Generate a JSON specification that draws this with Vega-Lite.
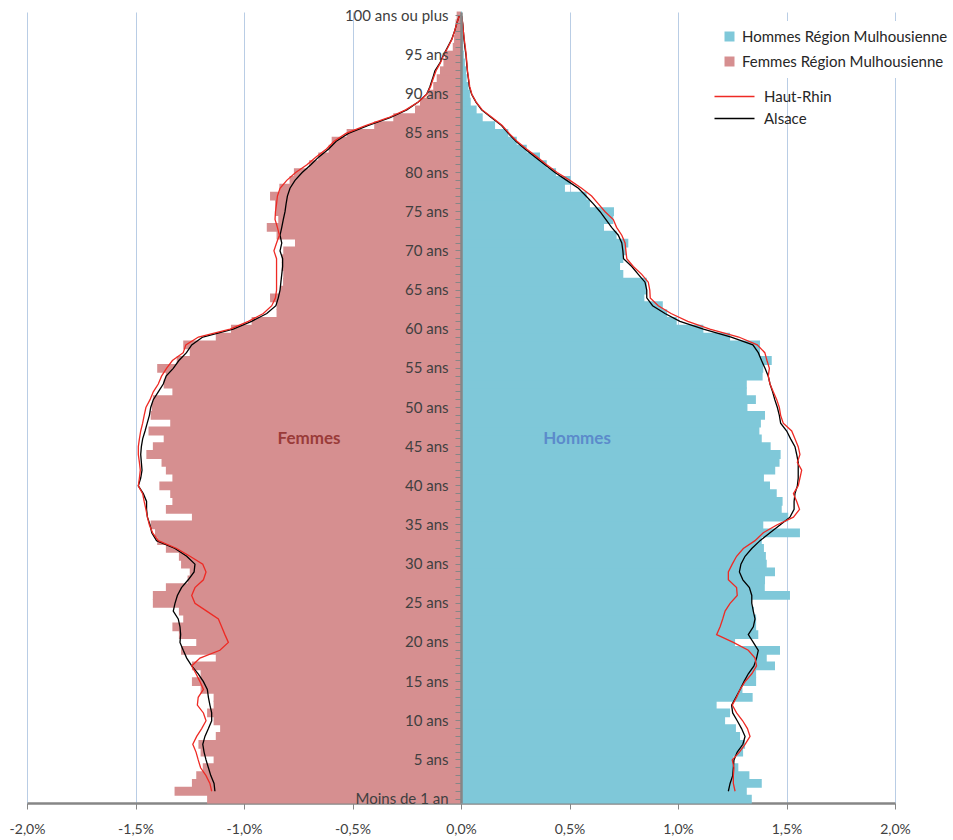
{
  "$schema": "https://vega.github.io/schema/vega-lite/v6.json",
  "width": 868,
  "height": 791,
  "autosize": {"type": "none"},
  "padding": {"left": 27, "top": 12, "right": 58, "bottom": 37},
  "background": "white",
  "config": {"view": {"stroke": null}, "font": "Lato"},
  "datasets": {
    "barres": [
      {"age":0,"h":1.34,"f":-1.17},{"age":1,"h":1.317,"f":-1.32},{"age":2,"h":1.386,"f":-1.24},{"age":3,"h":1.329,"f":-1.22},{"age":4,"h":1.278,"f":-1.19},
      {"age":5,"h":1.255,"f":-1.14},{"age":6,"h":1.3,"f":-1.2},{"age":7,"h":1.309,"f":-1.21},{"age":8,"h":1.286,"f":-1.13},{"age":9,"h":1.267,"f":-1.11},
      {"age":10,"h":1.217,"f":-1.14},{"age":11,"h":1.24,"f":-1.17},{"age":12,"h":1.178,"f":-1.14},{"age":13,"h":1.344,"f":-1.14},{"age":14,"h":1.297,"f":-1.2},
      {"age":15,"h":1.36,"f":-1.24},{"age":16,"h":1.36,"f":-1.2},{"age":17,"h":1.447,"f":-1.24},{"age":18,"h":1.409,"f":-1.13},{"age":19,"h":1.47,"f":-1.29},
      {"age":20,"h":1.263,"f":-1.22},{"age":21,"h":1.37,"f":-1.3},{"age":22,"h":1.36,"f":-1.33},{"age":23,"h":1.36,"f":-1.28},{"age":24,"h":1.35,"f":-1.3},
      {"age":25,"h":1.34,"f":-1.42},{"age":26,"h":1.516,"f":-1.42},{"age":27,"h":1.4,"f":-1.36},{"age":28,"h":1.401,"f":-1.26},{"age":29,"h":1.447,"f":-1.25},
      {"age":30,"h":1.409,"f":-1.29},{"age":31,"h":1.405,"f":-1.3},{"age":32,"h":1.396,"f":-1.36},{"age":33,"h":1.386,"f":-1.4},{"age":34,"h":1.562,"f":-1.41},
      {"age":35,"h":1.393,"f":-1.43},{"age":36,"h":1.508,"f":-1.24},{"age":37,"h":1.478,"f":-1.36},{"age":38,"h":1.482,"f":-1.33},{"age":39,"h":1.455,"f":-1.34},
      {"age":40,"h":1.424,"f":-1.39},{"age":41,"h":1.396,"f":-1.33},{"age":42,"h":1.448,"f":-1.36},{"age":43,"h":1.468,"f":-1.38},{"age":44,"h":1.473,"f":-1.45},
      {"age":45,"h":1.427,"f":-1.42},{"age":46,"h":1.386,"f":-1.37},{"age":47,"h":1.375,"f":-1.44},{"age":48,"h":1.382,"f":-1.34},{"age":49,"h":1.401,"f":-1.43},
      {"age":50,"h":1.32,"f":-1.425},{"age":51,"h":1.359,"f":-1.42},{"age":52,"h":1.317,"f":-1.33},{"age":53,"h":1.317,"f":-1.37},{"age":54,"h":1.39,"f":-1.36},
      {"age":55,"h":1.393,"f":-1.4},{"age":56,"h":1.432,"f":-1.31},{"age":57,"h":1.378,"f":-1.25},{"age":58,"h":1.378,"f":-1.28},{"age":59,"h":1.24,"f":-1.13},
      {"age":60,"h":1.117,"f":-1.06},{"age":61,"h":0.994,"f":-0.965},{"age":62,"h":0.95,"f":-0.85},{"age":63,"h":0.93,"f":-0.85},{"age":64,"h":0.845,"f":-0.88},
      {"age":65,"h":0.856,"f":-0.834},{"age":66,"h":0.856,"f":-0.82},{"age":67,"h":0.748,"f":-0.819},{"age":68,"h":0.733,"f":-0.826},{"age":69,"h":0.748,"f":-0.826},
      {"age":70,"h":0.76,"f":-0.819},{"age":71,"h":0.771,"f":-0.765},{"age":72,"h":0.717,"f":-0.85},{"age":73,"h":0.659,"f":-0.895},{"age":74,"h":0.702,"f":-0.842},
      {"age":75,"h":0.705,"f":-0.857},{"age":76,"h":0.594,"f":-0.857},{"age":77,"h":0.579,"f":-0.88},{"age":78,"h":0.479,"f":-0.837},{"age":79,"h":0.505,"f":-0.79},
      {"age":80,"h":0.438,"f":-0.77},{"age":81,"h":0.395,"f":-0.7},{"age":82,"h":0.364,"f":-0.658},{"age":83,"h":0.303,"f":-0.61},{"age":84,"h":0.257,"f":-0.596},
      {"age":85,"h":0.218,"f":-0.527},{"age":86,"h":0.157,"f":-0.4},{"age":87,"h":0.1,"f":-0.312},{"age":88,"h":0.072,"f":-0.212},{"age":89,"h":0.045,"f":-0.189},
      {"age":90,"h":0.041,"f":-0.151},{"age":91,"h":0.034,"f":-0.128},{"age":92,"h":0.026,"f":-0.112},{"age":93,"h":0.023,"f":-0.097},{"age":94,"h":0.018,"f":-0.081},
      {"age":95,"h":0.013,"f":-0.074},{"age":96,"h":0.01,"f":-0.038},{"age":97,"h":0.01,"f":-0.032},{"age":98,"h":0.01,"f":-0.028},{"age":99,"h":0.008,"f":-0.025},
      {"age":100,"h":0.005,"f":-0.02}
    ],
    "courbes": [
      {"age":1,"zone":"Alsace","h":1.232,"f":-1.134},{"age":1,"zone":"Haut-Rhin","h":1.263,"f":-1.149},
      {"age":2,"zone":"Alsace","h":1.24,"f":-1.138},{"age":2,"zone":"Haut-Rhin","h":1.255,"f":-1.157},
      {"age":3,"zone":"Alsace","h":1.252,"f":-1.153},{"age":3,"zone":"Haut-Rhin","h":1.255,"f":-1.175},
      {"age":4,"zone":"Alsace","h":1.255,"f":-1.164},{"age":4,"zone":"Haut-Rhin","h":1.258,"f":-1.2},
      {"age":5,"zone":"Alsace","h":1.258,"f":-1.175},{"age":5,"zone":"Haut-Rhin","h":1.25,"f":-1.211},
      {"age":6,"zone":"Alsace","h":1.273,"f":-1.184},{"age":6,"zone":"Haut-Rhin","h":1.283,"f":-1.221},
      {"age":7,"zone":"Alsace","h":1.299,"f":-1.19},{"age":7,"zone":"Haut-Rhin","h":1.309,"f":-1.236},
      {"age":8,"zone":"Alsace","h":1.309,"f":-1.18},{"age":8,"zone":"Haut-Rhin","h":1.332,"f":-1.218},
      {"age":9,"zone":"Alsace","h":1.293,"f":-1.164},{"age":9,"zone":"Haut-Rhin","h":1.32,"f":-1.195},
      {"age":10,"zone":"Alsace","h":1.273,"f":-1.149},{"age":10,"zone":"Haut-Rhin","h":1.298,"f":-1.175},
      {"age":11,"zone":"Alsace","h":1.252,"f":-1.149},{"age":11,"zone":"Haut-Rhin","h":1.27,"f":-1.187},
      {"age":12,"zone":"Alsace","h":1.247,"f":-1.157},{"age":12,"zone":"Haut-Rhin","h":1.25,"f":-1.215},
      {"age":13,"zone":"Alsace","h":1.267,"f":-1.164},{"age":13,"zone":"Haut-Rhin","h":1.27,"f":-1.211},
      {"age":14,"zone":"Alsace","h":1.286,"f":-1.169},{"age":14,"zone":"Haut-Rhin","h":1.286,"f":-1.187},
      {"age":15,"zone":"Alsace","h":1.304,"f":-1.187},{"age":15,"zone":"Haut-Rhin","h":1.309,"f":-1.203},
      {"age":16,"zone":"Alsace","h":1.324,"f":-1.211},{"age":16,"zone":"Haut-Rhin","h":1.34,"f":-1.221},
      {"age":17,"zone":"Alsace","h":1.35,"f":-1.241},{"age":17,"zone":"Haut-Rhin","h":1.362,"f":-1.241},
      {"age":18,"zone":"Alsace","h":1.362,"f":-1.264},{"age":18,"zone":"Haut-Rhin","h":1.355,"f":-1.203},
      {"age":19,"zone":"Alsace","h":1.37,"f":-1.28},{"age":19,"zone":"Haut-Rhin","h":1.324,"f":-1.111},
      {"age":20,"zone":"Alsace","h":1.347,"f":-1.295},{"age":20,"zone":"Haut-Rhin","h":1.255,"f":-1.072},
      {"age":21,"zone":"Alsace","h":1.324,"f":-1.292},{"age":21,"zone":"Haut-Rhin","h":1.178,"f":-1.088},
      {"age":22,"zone":"Alsace","h":1.347,"f":-1.295},{"age":22,"zone":"Haut-Rhin","h":1.194,"f":-1.103},
      {"age":23,"zone":"Alsace","h":1.355,"f":-1.303},{"age":23,"zone":"Haut-Rhin","h":1.206,"f":-1.118},
      {"age":24,"zone":"Alsace","h":1.347,"f":-1.326},{"age":24,"zone":"Haut-Rhin","h":1.217,"f":-1.172},
      {"age":25,"zone":"Alsace","h":1.34,"f":-1.318},{"age":25,"zone":"Haut-Rhin","h":1.24,"f":-1.226},
      {"age":26,"zone":"Alsace","h":1.34,"f":-1.307},{"age":26,"zone":"Haut-Rhin","h":1.273,"f":-1.241},
      {"age":27,"zone":"Alsace","h":1.329,"f":-1.288},{"age":27,"zone":"Haut-Rhin","h":1.27,"f":-1.226},
      {"age":28,"zone":"Alsace","h":1.299,"f":-1.257},{"age":28,"zone":"Haut-Rhin","h":1.232,"f":-1.187},
      {"age":29,"zone":"Alsace","h":1.283,"f":-1.23},{"age":29,"zone":"Haut-Rhin","h":1.232,"f":-1.175},
      {"age":30,"zone":"Alsace","h":1.29,"f":-1.226},{"age":30,"zone":"Haut-Rhin","h":1.25,"f":-1.19},
      {"age":31,"zone":"Alsace","h":1.309,"f":-1.264},{"age":31,"zone":"Haut-Rhin","h":1.27,"f":-1.249},
      {"age":32,"zone":"Alsace","h":1.34,"f":-1.318},{"age":32,"zone":"Haut-Rhin","h":1.301,"f":-1.31},
      {"age":33,"zone":"Alsace","h":1.378,"f":-1.403},{"age":33,"zone":"Haut-Rhin","h":1.355,"f":-1.395},
      {"age":34,"zone":"Alsace","h":1.424,"f":-1.425},{"age":34,"zone":"Haut-Rhin","h":1.393,"f":-1.421},
      {"age":35,"zone":"Alsace","h":1.47,"f":-1.433},{"age":35,"zone":"Haut-Rhin","h":1.455,"f":-1.436},
      {"age":36,"zone":"Alsace","h":1.516,"f":-1.445},{"age":36,"zone":"Haut-Rhin","h":1.532,"f":-1.445},
      {"age":37,"zone":"Alsace","h":1.535,"f":-1.449},{"age":37,"zone":"Haut-Rhin","h":1.56,"f":-1.452},
      {"age":38,"zone":"Alsace","h":1.535,"f":-1.449},{"age":38,"zone":"Haut-Rhin","h":1.547,"f":-1.46},
      {"age":39,"zone":"Alsace","h":1.539,"f":-1.464},{"age":39,"zone":"Haut-Rhin","h":1.532,"f":-1.467},
      {"age":40,"zone":"Alsace","h":1.55,"f":-1.487},{"age":40,"zone":"Haut-Rhin","h":1.554,"f":-1.487},
      {"age":41,"zone":"Alsace","h":1.554,"f":-1.476},{"age":41,"zone":"Haut-Rhin","h":1.562,"f":-1.482},
      {"age":42,"zone":"Alsace","h":1.554,"f":-1.47},{"age":42,"zone":"Haut-Rhin","h":1.57,"f":-1.478},
      {"age":43,"zone":"Alsace","h":1.554,"f":-1.473},{"age":43,"zone":"Haut-Rhin","h":1.55,"f":-1.482},
      {"age":44,"zone":"Alsace","h":1.547,"f":-1.476},{"age":44,"zone":"Haut-Rhin","h":1.562,"f":-1.487},
      {"age":45,"zone":"Alsace","h":1.539,"f":-1.473},{"age":45,"zone":"Haut-Rhin","h":1.554,"f":-1.487},
      {"age":46,"zone":"Alsace","h":1.519,"f":-1.467},{"age":46,"zone":"Haut-Rhin","h":1.539,"f":-1.482},
      {"age":47,"zone":"Alsace","h":1.501,"f":-1.456},{"age":47,"zone":"Haut-Rhin","h":1.524,"f":-1.476},
      {"age":48,"zone":"Alsace","h":1.473,"f":-1.446},{"age":48,"zone":"Haut-Rhin","h":1.485,"f":-1.467},
      {"age":49,"zone":"Alsace","h":1.467,"f":-1.436},{"age":49,"zone":"Haut-Rhin","h":1.473,"f":-1.46},
      {"age":50,"zone":"Alsace","h":1.458,"f":-1.43},{"age":50,"zone":"Haut-Rhin","h":1.467,"f":-1.452},
      {"age":51,"zone":"Alsace","h":1.446,"f":-1.418},{"age":51,"zone":"Haut-Rhin","h":1.455,"f":-1.433},
      {"age":52,"zone":"Alsace","h":1.436,"f":-1.395},{"age":52,"zone":"Haut-Rhin","h":1.439,"f":-1.418},
      {"age":53,"zone":"Alsace","h":1.424,"f":-1.372},{"age":53,"zone":"Haut-Rhin","h":1.424,"f":-1.395},
      {"age":54,"zone":"Alsace","h":1.416,"f":-1.359},{"age":54,"zone":"Haut-Rhin","h":1.416,"f":-1.38},
      {"age":55,"zone":"Alsace","h":1.401,"f":-1.326},{"age":55,"zone":"Haut-Rhin","h":1.421,"f":-1.357},
      {"age":56,"zone":"Alsace","h":1.385,"f":-1.3},{"age":56,"zone":"Haut-Rhin","h":1.41,"f":-1.33},
      {"age":57,"zone":"Alsace","h":1.37,"f":-1.265},{"age":57,"zone":"Haut-Rhin","h":1.4,"f":-1.28},
      {"age":58,"zone":"Alsace","h":1.345,"f":-1.241},{"age":58,"zone":"Haut-Rhin","h":1.365,"f":-1.268},
      {"age":59,"zone":"Alsace","h":1.245,"f":-1.19},{"age":59,"zone":"Haut-Rhin","h":1.28,"f":-1.21},
      {"age":60,"zone":"Alsace","h":1.117,"f":-1.05},{"age":60,"zone":"Haut-Rhin","h":1.147,"f":-1.064},
      {"age":61,"zone":"Alsace","h":1.009,"f":-0.965},{"age":61,"zone":"Haut-Rhin","h":1.045,"f":-0.98},
      {"age":62,"zone":"Alsace","h":0.94,"f":-0.895},{"age":62,"zone":"Haut-Rhin","h":0.968,"f":-0.911},
      {"age":63,"zone":"Alsace","h":0.883,"f":-0.853},{"age":63,"zone":"Haut-Rhin","h":0.909,"f":-0.872},
      {"age":64,"zone":"Alsace","h":0.856,"f":-0.842},{"age":64,"zone":"Haut-Rhin","h":0.872,"f":-0.855},
      {"age":65,"zone":"Alsace","h":0.856,"f":-0.834},{"age":65,"zone":"Haut-Rhin","h":0.87,"f":-0.85},
      {"age":66,"zone":"Alsace","h":0.848,"f":-0.83},{"age":66,"zone":"Haut-Rhin","h":0.863,"f":-0.85},
      {"age":67,"zone":"Alsace","h":0.817,"f":-0.826},{"age":67,"zone":"Haut-Rhin","h":0.833,"f":-0.85},
      {"age":68,"zone":"Alsace","h":0.787,"f":-0.822},{"age":68,"zone":"Haut-Rhin","h":0.794,"f":-0.85},
      {"age":69,"zone":"Alsace","h":0.749,"f":-0.822},{"age":69,"zone":"Haut-Rhin","h":0.764,"f":-0.85},
      {"age":70,"zone":"Alsace","h":0.746,"f":-0.834},{"age":70,"zone":"Haut-Rhin","h":0.76,"f":-0.862},
      {"age":71,"zone":"Alsace","h":0.741,"f":-0.826},{"age":71,"zone":"Haut-Rhin","h":0.756,"f":-0.85},
      {"age":72,"zone":"Alsace","h":0.725,"f":-0.834},{"age":72,"zone":"Haut-Rhin","h":0.741,"f":-0.837},
      {"age":73,"zone":"Alsace","h":0.694,"f":-0.826},{"age":73,"zone":"Haut-Rhin","h":0.717,"f":-0.846},
      {"age":74,"zone":"Alsace","h":0.668,"f":-0.819},{"age":74,"zone":"Haut-Rhin","h":0.702,"f":-0.857},
      {"age":75,"zone":"Alsace","h":0.641,"f":-0.811},{"age":75,"zone":"Haut-Rhin","h":0.664,"f":-0.855},
      {"age":76,"zone":"Alsace","h":0.61,"f":-0.806},{"age":76,"zone":"Haut-Rhin","h":0.633,"f":-0.85},
      {"age":77,"zone":"Alsace","h":0.576,"f":-0.8},{"age":77,"zone":"Haut-Rhin","h":0.602,"f":-0.846},
      {"age":78,"zone":"Alsace","h":0.541,"f":-0.788},{"age":78,"zone":"Haut-Rhin","h":0.556,"f":-0.834},
      {"age":79,"zone":"Alsace","h":0.487,"f":-0.765},{"age":79,"zone":"Haut-Rhin","h":0.502,"f":-0.803},
      {"age":80,"zone":"Alsace","h":0.433,"f":-0.732},{"age":80,"zone":"Haut-Rhin","h":0.443,"f":-0.762},
      {"age":81,"zone":"Alsace","h":0.387,"f":-0.692},{"age":81,"zone":"Haut-Rhin","h":0.395,"f":-0.71},
      {"age":82,"zone":"Alsace","h":0.341,"f":-0.655},{"age":82,"zone":"Haut-Rhin","h":0.35,"f":-0.668},
      {"age":83,"zone":"Alsace","h":0.295,"f":-0.61},{"age":83,"zone":"Haut-Rhin","h":0.302,"f":-0.62},
      {"age":84,"zone":"Alsace","h":0.253,"f":-0.575},{"age":84,"zone":"Haut-Rhin","h":0.258,"f":-0.585},
      {"age":85,"zone":"Alsace","h":0.218,"f":-0.519},{"age":85,"zone":"Haut-Rhin","h":0.222,"f":-0.53},
      {"age":86,"zone":"Alsace","h":0.187,"f":-0.43},{"age":86,"zone":"Haut-Rhin","h":0.19,"f":-0.44},
      {"age":87,"zone":"Alsace","h":0.141,"f":-0.327},{"age":87,"zone":"Haut-Rhin","h":0.145,"f":-0.335},
      {"age":88,"zone":"Alsace","h":0.095,"f":-0.25},{"age":88,"zone":"Haut-Rhin","h":0.098,"f":-0.255},
      {"age":89,"zone":"Alsace","h":0.069,"f":-0.197},{"age":89,"zone":"Haut-Rhin","h":0.07,"f":-0.197},
      {"age":90,"zone":"Alsace","h":0.049,"f":-0.158},{"age":90,"zone":"Haut-Rhin","h":0.05,"f":-0.158},
      {"age":91,"zone":"Alsace","h":0.038,"f":-0.143},{"age":91,"zone":"Haut-Rhin","h":0.04,"f":-0.14},
      {"age":92,"zone":"Alsace","h":0.034,"f":-0.131},{"age":92,"zone":"Haut-Rhin","h":0.035,"f":-0.128},
      {"age":93,"zone":"Alsace","h":0.029,"f":-0.12},{"age":93,"zone":"Haut-Rhin","h":0.03,"f":-0.115},
      {"age":94,"zone":"Alsace","h":0.026,"f":-0.097},{"age":94,"zone":"Haut-Rhin","h":0.027,"f":-0.095},
      {"age":95,"zone":"Alsace","h":0.023,"f":-0.081},{"age":95,"zone":"Haut-Rhin","h":0.024,"f":-0.08},
      {"age":96,"zone":"Alsace","h":0.018,"f":-0.062},{"age":96,"zone":"Haut-Rhin","h":0.02,"f":-0.06},
      {"age":97,"zone":"Alsace","h":0.014,"f":-0.043},{"age":97,"zone":"Haut-Rhin","h":0.015,"f":-0.042},
      {"age":98,"zone":"Alsace","h":0.011,"f":-0.03},{"age":98,"zone":"Haut-Rhin","h":0.011,"f":-0.03},
      {"age":99,"zone":"Alsace","h":0.008,"f":-0.02},{"age":99,"zone":"Haut-Rhin","h":0.008,"f":-0.02},
      {"age":100,"zone":"Alsace","h":0.003,"f":-0.008},{"age":100,"zone":"Haut-Rhin","h":0.003,"f":-0.008}
    ]
  },
  "encoding": {
    "y": {
      "field": "age", "type": "ordinal", "sort": "descending",
      "scale": {"paddingInner": 0, "paddingOuter": 0},
      "axis": {
        "orient": "left", "offset": -434, "zindex": 1, "title": null, "grid": false,
        "domainColor": "#868686", "domainWidth": 2.5, "tickColor": "#868686", "tickSize": 6, "tickWidth": 1,
        "labelExpr": "datum.value == 0 ? 'Moins de 1 an' : (datum.value == 100 ? '100 ans ou plus' : (datum.value % 5 == 0 ? datum.value + ' ans' : ''))",
        "labelFont": "Lato", "labelFontSize": 15, "labelColor": "#404040", "labelPadding": 7,
        "labelOverlap": false, "labelBound": false, "labelLimit": 0
      }
    },
    "x": {
      "field": "valeur", "type": "quantitative",
      "scale": {"domain": [-2, 2], "nice": false, "zero": false},
      "axis": {
        "orient": "bottom", "title": null, "values": [-2, -1.5, -1, -0.5, 0, 0.5, 1, 1.5, 2],
        "labelExpr": "(datum.value < 0 ? '-' : '') + replace(format(abs(datum.value), '.1f'), '.', ',') + '%'",
        "grid": true, "gridColor": "#B9CDE5", "gridWidth": 1,
        "domainColor": "#868686", "domainWidth": 2.5, "tickColor": "#868686", "tickSize": 6,
        "labelFont": "Lato", "labelFontSize": 14, "labelColor": "#404040", "labelPadding": 13,
        "labelFlush": false, "labelBound": false
      }
    }
  },
  "layer": [
    {
      "data": {"name": "barres"},
      "transform": [{"fold": ["h", "f"], "as": ["serie", "valeur"]}],
      "mark": {"type": "bar", "strokeWidth": 0, "height": {"band": 1.12}},
      "encoding": {
        "color": {
          "field": "serie", "type": "nominal",
          "scale": {"domain": ["h", "f"], "range": ["#7FC8D9", "#D68F90"]},
          "legend": {
            "orient": "none", "legendX": 687, "legendY": 9, "title": null,
            "symbolType": "square", "symbolSize": 100, "symbolStrokeWidth": 0,
            "labelFont": "Lato", "labelFontSize": 15, "labelColor": "#262626", "labelOffset": 5,
            "labelLimit": 0, "rowPadding": 9, "padding": 8, "fillColor": "white",
            "labelExpr": "datum.value == 'h' ? 'Hommes Région Mulhousienne' : 'Femmes Région Mulhousienne'"
          }
        }
      }
    },
    {
      "data": {"name": "courbes"},
      "transform": [{"fold": ["h", "f"], "as": ["sexe", "valeur"]}],
      "mark": {"type": "line", "strokeWidth": 1.3},
      "encoding": {
        "stroke": {
          "field": "zone", "type": "nominal",
          "scale": {"domain": ["Haut-Rhin", "Alsace"], "range": ["#EE2A24", "#000000"]},
          "legend": {
            "orient": "none", "legendX": 700, "legendY": 77, "title": null,
            "symbolType": "M-4,0H4", "symbolSize": 100, "symbolStrokeWidth": 1.5,
            "labelFont": "Lato", "labelFontSize": 15, "labelColor": "#262626", "labelOffset": 22,
            "labelLimit": 0, "rowPadding": 6, "padding": 0
          }
        },
        "detail": {"field": "sexe"},
        "order": {"field": "age", "type": "quantitative"}
      }
    },
    {
      "data": {"values": [{"age": 46, "valeur": -0.7, "libelle": "Femmes"}]},
      "mark": {"type": "text", "font": "Lato", "fontSize": 17, "fontWeight": "bold", "color": "#9A3B39"},
      "encoding": {"text": {"field": "libelle"}}
    },
    {
      "data": {"values": [{"age": 46, "valeur": 0.535, "libelle": "Hommes"}]},
      "mark": {"type": "text", "font": "Lato", "fontSize": 17, "fontWeight": "bold", "color": "#5B8BCB"},
      "encoding": {"text": {"field": "libelle"}}
    }
  ]
}
